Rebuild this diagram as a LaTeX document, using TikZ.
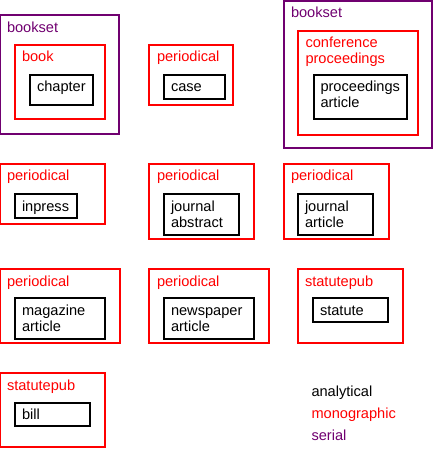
\documentclass[tikz,border=0pt]{standalone}
\usepackage{fontspec}
\setmainfont{Liberation Sans}
\definecolor{serialc}{RGB}{112,0,112}
\definecolor{monoc}{RGB}{255,0,0}
\tikzset{
  frame/.style={draw=#1,line width=1.3pt,inner sep=0pt,outer sep=0pt,anchor=north west},
  lbl/.style={anchor=base west,inner sep=0pt,outer sep=0pt,font=\fontsize{14.6}{16}\selectfont},
  mono/.style={lbl,text=monoc},
  seri/.style={lbl,text=serialc},
  anal/.style={lbl,text=black}
}
\newcommand\frm[6]{\node[frame=#6,minimum width={#4-#2},minimum height={#5-#3}] (#1) at (#2,#3) {};}
\begin{document}
\begin{tikzpicture}[x=1pt,y=-1pt]
\useasboundingbox (0,0) rectangle (435,449);
% row 1
\frm{bs1}{0.7}{15}{119}{134}{serialc}
\frm{book}{15}{45}{105}{119}{monoc}
\frm{chap}{30}{75}{93}{105}{black}
\node[seri] (tbs1) at (7,32.5) {bookset};
\node[mono] (tbook) at (22,62) {book};
\node[anal] (tchap) at (37,92) {chapter};
\frm{per1}{149}{45}{233}{105}{monoc}
\frm{case}{164}{75}{225}{99}{black}
\node[mono] (tper1) at (157,62) {periodical};
\node[anal] (tcase) at (171,92) {case};
\frm{bs2}{284}{1}{432}{148}{serialc}
\frm{conf}{298}{31}{418}{135}{monoc}
\frm{proc}{314}{75}{407}{119}{black}
\node[seri] (tbs2) at (291,17.5) {bookset};
\node[mono] (tconf1) at (305.5,47.7) {conference};
\node[mono] (tconf2) at (305.5,63.7) {proceedings};
\node[anal] (tproc1) at (320.5,92) {proceedings};
\node[anal] (tproc2) at (320.5,108) {article};
% row 2
\frm{per2}{0.7}{164}{105}{224}{monoc}
\frm{inpr}{15}{194}{77}{218}{black}
\node[mono] (tper2) at (7,180.7) {periodical};
\node[anal] (tinpr) at (22,211) {inpress};
\frm{per3}{149}{164}{254}{239}{monoc}
\frm{jabs}{164}{194}{239}{235}{black}
\node[mono] (tper3) at (157,180.7) {periodical};
\node[anal] (tjabs1) at (171,211) {journal};
\node[anal] (tjabs2) at (171,227) {abstract};
\frm{per4}{284}{164}{389}{239}{monoc}
\frm{jart}{298}{194}{373}{235}{black}
\node[mono] (tper4) at (291,180.7) {periodical};
\node[anal] (tjart1) at (305,211) {journal};
\node[anal] (tjart2) at (305,227) {article};
% row 3
\frm{per5}{0.7}{269}{120}{343}{monoc}
\frm{mag}{15}{298}{105}{339}{black}
\node[mono] (tper5) at (7,286) {periodical};
\node[anal] (tmag1) at (22,315.7) {magazine};
\node[anal] (tmag2) at (22,331.7) {article};
\frm{per6}{149}{269}{269}{343}{monoc}
\frm{news}{164}{298}{254}{339}{black}
\node[mono] (tper6) at (157,286) {periodical};
\node[anal] (tnews1) at (171,315.7) {newspaper};
\node[anal] (tnews2) at (171,331.7) {article};
\frm{stp1}{298}{269}{403}{343}{monoc}
\frm{stat}{313}{298}{388}{322}{black}
\node[mono] (tstp1) at (305,286) {statutepub};
\node[anal] (tstat) at (320,315) {statute};
% row 4
\frm{stp2}{0.7}{373}{105}{447}{monoc}
\frm{bill}{15}{403}{90}{426}{black}
\node[mono] (tstp2) at (7,390) {statutepub};
\node[anal] (tbill) at (22,419.3) {bill};
% legend
\node[anal] (lgA) at (311.5,396.7) {analytical};
\node[mono] (lgM) at (311.5,418.3) {monographic};
\node[seri] (lgS) at (311.5,440) {serial};
\end{tikzpicture}
\end{document}
